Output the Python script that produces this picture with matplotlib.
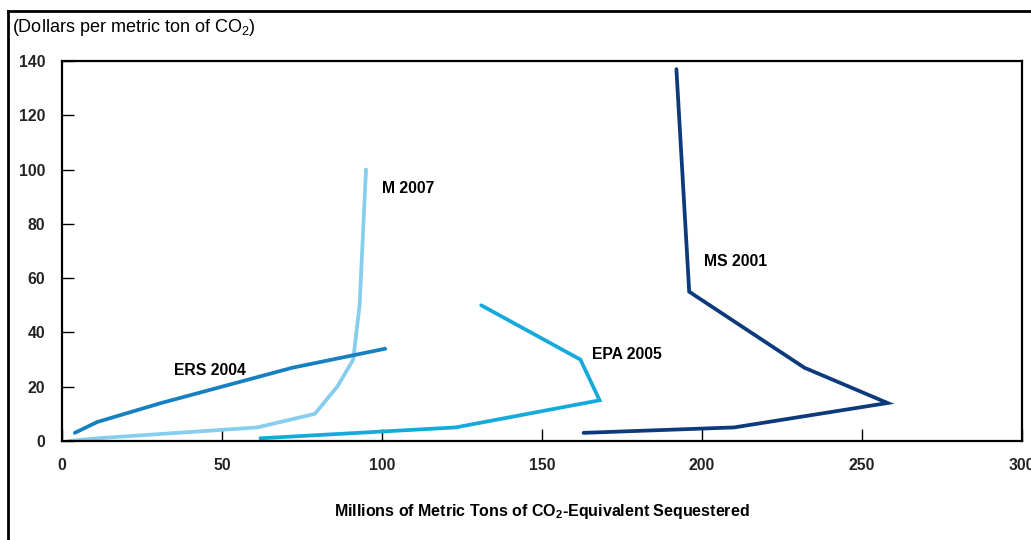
from matplotlib import pyplot as plt
from matplotlib.lines import Line2D
import numpy as np

plt.rcParams['font.family'] = ['Liberation Sans', 'DejaVu Sans']
plt.rcParams['mathtext.fontset'] = 'custom'
plt.rcParams['mathtext.rm'] = 'Liberation Sans'
plt.rcParams['mathtext.bf'] = 'Liberation Sans:bold'

## Courbes de coût marginal (x : MtCO2e séquestrées, y : $/tCO2)
ms2001_x = [163, 210, 258, 232, 196, 192]
ms2001_y = [3, 5, 14, 27, 55, 137]

m2007_x = [2, 11, 61, 79, 86, 91, 93, 95]
m2007_y = [0, 1, 5, 10, 20, 30, 50, 100]

ers2004_x = [4, 11, 31, 72, 101]
ers2004_y = [3, 7, 14, 27, 34]

epa2005_x = [62, 123, 168, 162, 131]
epa2005_y = [1, 5, 15, 30, 50]

series = [
    ("M 2007", m2007_x, m2007_y, '#86cdee', (100, 93)),
    ("ERS 2004", ers2004_x, ers2004_y, '#1680c0', (35, 26)),
    ("EPA 2005", epa2005_x, epa2005_y, '#15aadb', (165.5, 32)),
    ("MS 2001", ms2001_x, ms2001_y, '#0c3a7c', (200.5, 66)),
]

xticks = [0, 50, 100, 150, 200, 250, 300]
yticks = [0, 20, 40, 60, 80, 100, 120, 140]

fig = plt.figure(figsize=(10.31, 5.40), dpi=100)
ax = fig.add_axes([62/1031, 1 - 441/540, 960/1031, 380/540])

for name, x, y, c, (lx, ly) in series:
    ax.plot(x, y, color=c, lw=2.7, solid_capstyle='round', solid_joinstyle='miter')
    ax.text(lx, ly, name, fontsize=11.3, fontweight='bold', va='center', ha='left')

ax.set_xlim(0, 300)
ax.set_ylim(0, 140)
ax.set_xticks(xticks)
ax.set_yticks(yticks)
ax.tick_params(direction='in', length=8.5, width=1, pad=12, labelsize=11.3)
for lab in ax.get_xticklabels() + ax.get_yticklabels():
    lab.set_fontweight('bold')
    lab.set_color('#222222')
for s in ax.spines.values():
    s.set_linewidth(1.6)

ax.set_xlabel("Millions of Metric Tons of CO$_\\mathbf{2}$-Equivalent Sequestered",
              fontsize=11.5, fontweight='bold', labelpad=21)
fig.text(12/1031, 1 - 28/540, "(Dollars per metric ton of CO$_2$)", fontsize=13,
         ha='left', va='center')

## Cadre de la figure (haut et gauche)
fig.add_artist(Line2D([8/1031, 1.0], [1 - 11/540, 1 - 11/540], color='black', lw=2, transform=fig.transFigure))
fig.add_artist(Line2D([8/1031, 8/1031], [0.0, 1 - 11/540], color='black', lw=2, transform=fig.transFigure))

fig.savefig('out.png', dpi=100)
